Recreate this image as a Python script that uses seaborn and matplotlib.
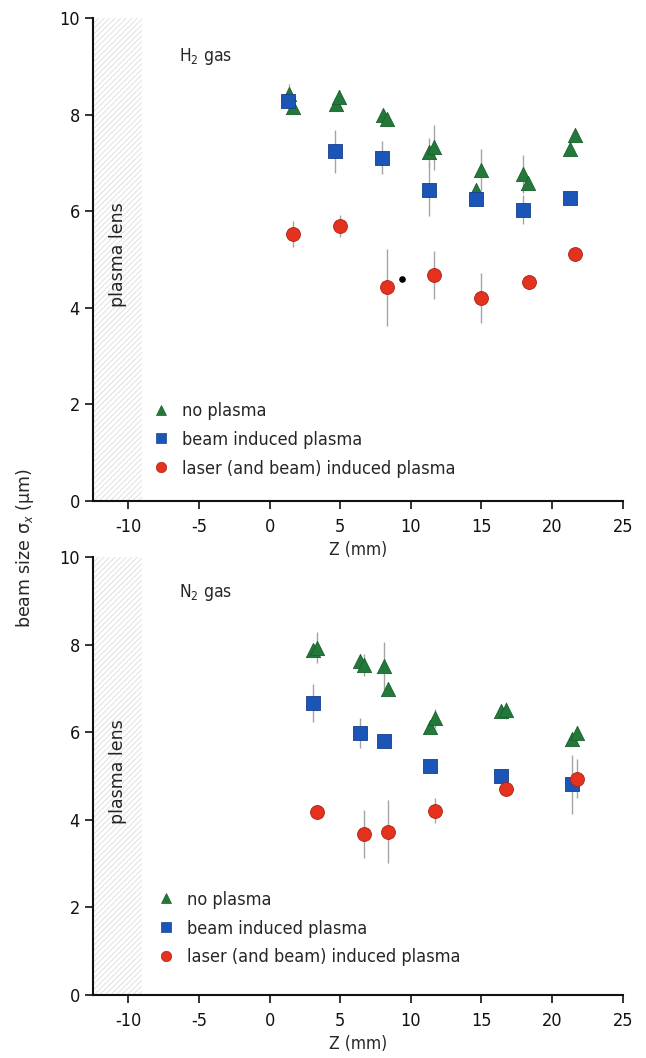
import numpy as np
import pandas as pd
import matplotlib
matplotlib.use('Agg')
import matplotlib.pyplot as plt
import seaborn as sns
from matplotlib.lines import Line2D

sns.set_theme(style='ticks')
plt.rcParams['font.family'] = ['DejaVu Sans']
plt.rcParams['font.stretch'] = 'condensed'
plt.rcParams['axes.unicode_minus'] = False
plt.rcParams['hatch.linewidth'] = 0.8

# series names
series = ['no plasma', 'beam induced plasma', 'laser (and beam) induced plasma']

# H2 gas panel
h2_tri_z = [1.34, 1.63, 4.68, 4.91, 8.02, 8.34, 11.31, 11.63, 14.62, 14.97, 17.97, 18.31, 21.28, 21.6]
h2_tri_y = [8.42, 8.15, 8.22, 8.36, 8.0, 7.91, 7.22, 7.32, 6.44, 6.85, 6.77, 6.58, 7.28, 7.57]
h2_tri_e = [0.22, 0.12, 0.12, 0.15, 0.1, 0.1, 0.3, 0.47, 0.12, 0.43, 0.4, 0.12, 0.12, 0.1]

h2_sq_z = [1.28, 4.65, 7.99, 11.31, 14.62, 17.97, 21.28]
h2_sq_y = [8.28, 7.24, 7.11, 6.44, 6.25, 6.03, 6.27]
h2_sq_e = [0.15, 0.45, 0.34, 0.55, 0.15, 0.3, 0.15]

h2_ci_z = [1.63, 4.97, 8.31, 11.66, 14.97, 18.34, 21.63]
h2_ci_y = [5.53, 5.69, 4.42, 4.68, 4.21, 4.53, 5.11]
h2_ci_e = [0.27, 0.23, 0.8, 0.5, 0.52, 0.1, 0.1]

h2_dot_z = [9.39]
h2_dot_y = [4.59]

# N2 gas panel
n2_tri_z = [3.08, 3.37, 6.37, 6.69, 8.08, 8.4, 11.37, 11.72, 16.37, 16.72, 21.4, 21.74]
n2_tri_y = [7.87, 7.93, 7.63, 7.54, 7.52, 6.99, 6.11, 6.32, 6.48, 6.5, 5.85, 5.98]
n2_tri_e = [0.12, 0.35, 0.12, 0.25, 0.55, 0.1, 0.12, 0.22, 0.1, 0.2, 0.1, 0.1]

n2_sq_z = [3.05, 6.4, 8.08, 11.37, 16.4, 21.4]
n2_sq_y = [6.67, 5.98, 5.8, 5.23, 5.0, 4.81]
n2_sq_e = [0.44, 0.35, 0.1, 0.1, 0.1, 0.68]

n2_ci_z = [3.34, 6.66, 8.4, 11.72, 16.77, 21.74]
n2_ci_y = [4.19, 3.68, 3.73, 4.21, 4.7, 4.94]
n2_ci_e = [0.1, 0.55, 0.72, 0.28, 0.1, 0.45]

x_ticks = [-10, -5, 0, 5, 10, 15, 20, 25]
y_ticks = [0, 2, 4, 6, 8, 10]

colors = {'no plasma': '#23793a', 'beam induced plasma': '#1c55b8',
          'laser (and beam) induced plasma': '#e5321f'}
edges = {'no plasma': '#1a5e2c', 'beam induced plasma': '#163f8a',
         'laser (and beam) induced plasma': '#a82414'}
markers = {'no plasma': '^', 'beam induced plasma': 's',
           'laser (and beam) induced plasma': 'o'}
sizes = {'no plasma': 105, 'beam induced plasma': 90,
         'laser (and beam) induced plasma': 100}


def panel_frame(tri, sq, ci):
    parts = []
    for label, (z, y, e) in zip(series, [tri, sq, ci]):
        parts.append(pd.DataFrame({'z': z, 'sigma': y, 'err': e, 'series': label}))
    return pd.concat(parts, ignore_index=True)


h2_df = panel_frame((h2_tri_z, h2_tri_y, h2_tri_e), (h2_sq_z, h2_sq_y, h2_sq_e),
                    (h2_ci_z, h2_ci_y, h2_ci_e))
n2_df = panel_frame((n2_tri_z, n2_tri_y, n2_tri_e), (n2_sq_z, n2_sq_y, n2_sq_e),
                    (n2_ci_z, n2_ci_y, n2_ci_e))

fig = plt.figure(figsize=(6.46, 10.58), dpi=100)
ax_top = fig.add_axes([0.144, 0.5265, 0.820, 0.4565])
ax_bot = fig.add_axes([0.144, 0.0595, 0.820, 0.414])


def draw_panel(ax, df, gas_label, legend_anchor):
    ax.axvspan(-12.5, -9.0, facecolor='white', edgecolor='#e4e4e4', hatch='//////',
               linewidth=0, zorder=0)
    ax.text(-10.75, 5.1, 'plasma lens', rotation=90, ha='center', va='center',
            fontsize=12.5, color='#222222', fontstretch='normal')
    ax.errorbar(df['z'], df['sigma'], yerr=df['err'], fmt='none', ecolor='#a5a5a5',
                elinewidth=1.0, capsize=0, zorder=1)
    for label in series:
        sub = df.loc[df['series'] == label]
        sns.scatterplot(data=sub, x='z', y='sigma', marker=markers[label],
                        color=colors[label], edgecolor=edges[label], linewidth=0.6,
                        s=sizes[label], ax=ax, zorder=3, legend=False)
    ax.text(-6.4, 9.2, gas_label, fontsize=12.5, ha='left', va='center')

    handles = [Line2D([], [], linestyle='none', marker=markers[l], color=colors[l],
                      markeredgecolor=edges[l], markeredgewidth=0.5,
                      markersize=7 if l == 'no plasma' else 7.5) for l in series]
    ax.legend(handles, series, loc='upper left', bbox_to_anchor=legend_anchor,
              frameon=False, fontsize=13, handlelength=0.8, handletextpad=0.75,
              labelspacing=0.6, borderpad=0, borderaxespad=0)

    ax.set_xlim(-12.5, 25)
    ax.set_ylim(0, 10)
    ax.set_xticks(x_ticks)
    ax.set_yticks(y_ticks)
    ax.set_xlabel('Z (mm)', fontsize=12.5, labelpad=4)
    ax.set_ylabel('')
    ax.tick_params(direction='out', length=6, width=1.2, labelsize=13, colors='#111111')
    ax.tick_params(axis='x', pad=6)
    for side in ['left', 'bottom']:
        ax.spines[side].set_linewidth(1.5)
        ax.spines[side].set_color('#111111')
    sns.despine(ax=ax)


draw_panel(ax_top, h2_df, 'H$_2$ gas', (0.115, 0.205))
ax_top.scatter(h2_dot_z, h2_dot_y, s=14, color='black', zorder=4)
draw_panel(ax_bot, n2_df, 'N$_2$ gas', (0.125, 0.238))

fig.text(0.039, 0.482, 'beam size σ$_x$ (μm)', rotation=90, ha='center', va='center',
         fontsize=12.5, fontstretch='normal')

fig.savefig('out.png', dpi=100)
